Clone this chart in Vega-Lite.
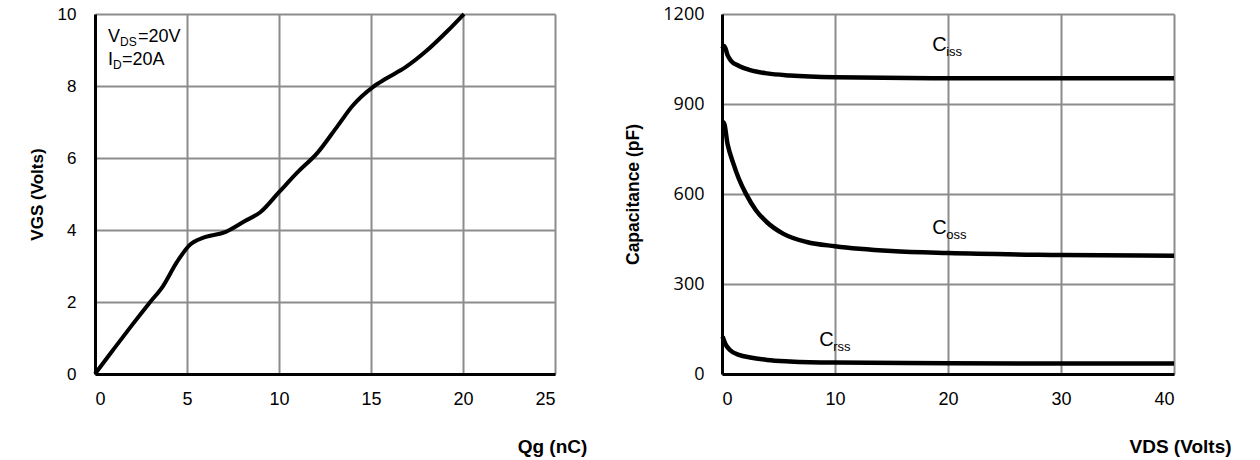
{
  "$schema": "https://vega.github.io/schema/vega-lite/v6.json",
  "padding": {"left": 28, "top": 5, "right": 5, "bottom": 5},
  "bounds": "flush",
  "spacing": 167,
  "background": "white",
  "config": {
    "view": {"stroke": null},
    "axis": {
      "grid": true,
      "gridColor": "#8c8c8c",
      "gridWidth": 2,
      "domainColor": "black",
      "domainWidth": 3,
      "ticks": false,
      "labelColor": "black",
      "titleColor": "black",
      "labelFont": "Liberation Sans",
      "titleFont": "Liberation Sans",
      "titleFontWeight": "bold"
    }
  },
  "datasets": {
    "gate": [
      {"qg": 0, "vgs": 0},
      {"qg": 1, "vgs": 0.68},
      {"qg": 2, "vgs": 1.35},
      {"qg": 3, "vgs": 2.0},
      {"qg": 3.68, "vgs": 2.43},
      {"qg": 4.44, "vgs": 3.1},
      {"qg": 5.1, "vgs": 3.56},
      {"qg": 5.97, "vgs": 3.8},
      {"qg": 7.07, "vgs": 3.94},
      {"qg": 8.15, "vgs": 4.25},
      {"qg": 9.0, "vgs": 4.5},
      {"qg": 10.0, "vgs": 5.05},
      {"qg": 11.0, "vgs": 5.6},
      {"qg": 12.1, "vgs": 6.15},
      {"qg": 13.2, "vgs": 6.9},
      {"qg": 14.0, "vgs": 7.45},
      {"qg": 15.1, "vgs": 7.97},
      {"qg": 15.8, "vgs": 8.2},
      {"qg": 16.9, "vgs": 8.53},
      {"qg": 18.0, "vgs": 8.97},
      {"qg": 19.1, "vgs": 9.5},
      {"qg": 20.05, "vgs": 10.0}
    ],
    "cap": [
      {"series": "Ciss", "v": 0.02, "c": 1085},
      {"series": "Ciss", "v": 0.2, "c": 1093},
      {"series": "Ciss", "v": 0.5, "c": 1062},
      {"series": "Ciss", "v": 0.8, "c": 1044},
      {"series": "Ciss", "v": 1.5, "c": 1027},
      {"series": "Ciss", "v": 2.5, "c": 1013},
      {"series": "Ciss", "v": 4, "c": 1002},
      {"series": "Ciss", "v": 6, "c": 995},
      {"series": "Ciss", "v": 10, "c": 989},
      {"series": "Ciss", "v": 18.6, "c": 986},
      {"series": "Ciss", "v": 30, "c": 986},
      {"series": "Ciss", "v": 40, "c": 986},
      {"series": "Coss", "v": 0.05, "c": 835},
      {"series": "Coss", "v": 0.15, "c": 838},
      {"series": "Coss", "v": 0.5, "c": 765},
      {"series": "Coss", "v": 1, "c": 702},
      {"series": "Coss", "v": 1.5, "c": 650},
      {"series": "Coss", "v": 2.1, "c": 602},
      {"series": "Coss", "v": 3, "c": 546},
      {"series": "Coss", "v": 4, "c": 505},
      {"series": "Coss", "v": 5.4, "c": 468},
      {"series": "Coss", "v": 7.5, "c": 440},
      {"series": "Coss", "v": 10, "c": 426},
      {"series": "Coss", "v": 15, "c": 410},
      {"series": "Coss", "v": 20, "c": 403},
      {"series": "Coss", "v": 30, "c": 397},
      {"series": "Coss", "v": 40, "c": 394},
      {"series": "Crss", "v": 0.05, "c": 125},
      {"series": "Crss", "v": 0.3, "c": 100},
      {"series": "Crss", "v": 0.7, "c": 80},
      {"series": "Crss", "v": 1.5, "c": 64},
      {"series": "Crss", "v": 2.5, "c": 55},
      {"series": "Crss", "v": 4, "c": 47},
      {"series": "Crss", "v": 6, "c": 42},
      {"series": "Crss", "v": 10, "c": 38},
      {"series": "Crss", "v": 20, "c": 36},
      {"series": "Crss", "v": 30, "c": 35},
      {"series": "Crss", "v": 40, "c": 35}
    ],
    "capNotes": [
      {"main": "C", "sub": "iss", "v": 18.6, "c": 1078},
      {"main": "C", "sub": "oss", "v": 18.6, "c": 467},
      {"main": "C", "sub": "rss", "v": 8.6, "c": 93}
    ]
  },
  "hconcat": [
    {
      "width": 460,
      "height": 360,
      "encoding": {
        "x": {
          "field": "qg", "type": "quantitative",
          "scale": {"domain": [0, 25], "nice": false, "zero": false},
          "axis": {
            "values": [0, 5, 10, 15, 20, 25],
            "labelFontSize": 18,
            "labelPadding": 16,
            "title": "Qg (nC)",
            "titleFontSize": 19,
            "titleX": 457,
            "titleY": 78,
            "titleAlign": "center",
            "titleBaseline": "alphabetic"
          }
        },
        "y": {
          "field": "vgs", "type": "quantitative",
          "scale": {"domain": [0, 10], "nice": false},
          "axis": {
            "values": [0, 2, 4, 6, 8, 10],
            "labelFontSize": 17,
            "labelPadding": 19,
            "title": "VGS (Volts)",
            "titleFontSize": 17,
            "titlePadding": 11
          }
        }
      },
      "layer": [
        {
          "data": {"name": "gate"},
          "mark": {"type": "line", "color": "black", "strokeWidth": 4, "interpolate": "monotone"}
        },
        {
          "data": {"values": [{"t": "V", "qg": 0.71, "vgs": 9.22}, {"t": "I", "qg": 0.71, "vgs": 8.58}]},
          "mark": {"type": "text", "align": "left", "baseline": "alphabetic", "font": "Liberation Sans", "fontSize": 18, "color": "black"},
          "encoding": {"text": {"field": "t"}}
        },
        {
          "data": {"values": [{"t": "DS", "qg": 0.71, "vgs": 9.22}]},
          "mark": {"type": "text", "align": "left", "baseline": "alphabetic", "font": "Liberation Sans", "fontSize": 12, "dx": 12, "dy": 4, "color": "black"},
          "encoding": {"text": {"field": "t"}}
        },
        {
          "data": {"values": [{"t": "=20V", "qg": 0.71, "vgs": 9.22}]},
          "mark": {"type": "text", "align": "left", "baseline": "alphabetic", "font": "Liberation Sans", "fontSize": 18, "dx": 30, "color": "black"},
          "encoding": {"text": {"field": "t"}}
        },
        {
          "data": {"values": [{"t": "D", "qg": 0.71, "vgs": 8.58}]},
          "mark": {"type": "text", "align": "left", "baseline": "alphabetic", "font": "Liberation Sans", "fontSize": 12, "dx": 5, "dy": 4, "color": "black"},
          "encoding": {"text": {"field": "t"}}
        },
        {
          "data": {"values": [{"t": "=20A", "qg": 0.71, "vgs": 8.58}]},
          "mark": {"type": "text", "align": "left", "baseline": "alphabetic", "font": "Liberation Sans", "fontSize": 18, "dx": 14, "color": "black"},
          "encoding": {"text": {"field": "t"}}
        }
      ]
    },
    {
      "width": 452,
      "height": 360,
      "encoding": {
        "x": {
          "field": "v", "type": "quantitative",
          "scale": {"domain": [0, 40], "nice": false},
          "axis": {
            "values": [0, 10, 20, 30, 40],
            "labelFontSize": 18,
            "labelPadding": 16,
            "title": "VDS (Volts)",
            "titleFontSize": 19,
            "titleX": 458,
            "titleY": 78,
            "titleAlign": "center",
            "titleBaseline": "alphabetic"
          }
        },
        "y": {
          "field": "c", "type": "quantitative",
          "scale": {"domain": [0, 1200], "nice": false},
          "axis": {
            "values": [0, 300, 600, 900, 1200],
            "format": "d",
            "labelFont": "Open Sans",
            "labelFontSize": 18,
            "labelPadding": 18,
            "title": "Capacitance (pF)",
            "titleFontSize": 17.5,
            "titlePadding": 20
          }
        }
      },
      "layer": [
        {
          "data": {"name": "cap"},
          "mark": {"type": "line", "color": "black", "strokeWidth": 4.5, "interpolate": "monotone"},
          "encoding": {"detail": {"field": "series"}}
        },
        {
          "data": {"name": "capNotes"},
          "mark": {"type": "text", "align": "left", "baseline": "alphabetic", "font": "Liberation Sans", "fontSize": 20, "color": "black"},
          "encoding": {"text": {"field": "main"}}
        },
        {
          "data": {"name": "capNotes"},
          "mark": {"type": "text", "align": "left", "baseline": "alphabetic", "font": "Liberation Sans", "fontSize": 13, "dx": 14, "dy": 5, "color": "black"},
          "encoding": {"text": {"field": "sub"}}
        }
      ]
    }
  ]
}
